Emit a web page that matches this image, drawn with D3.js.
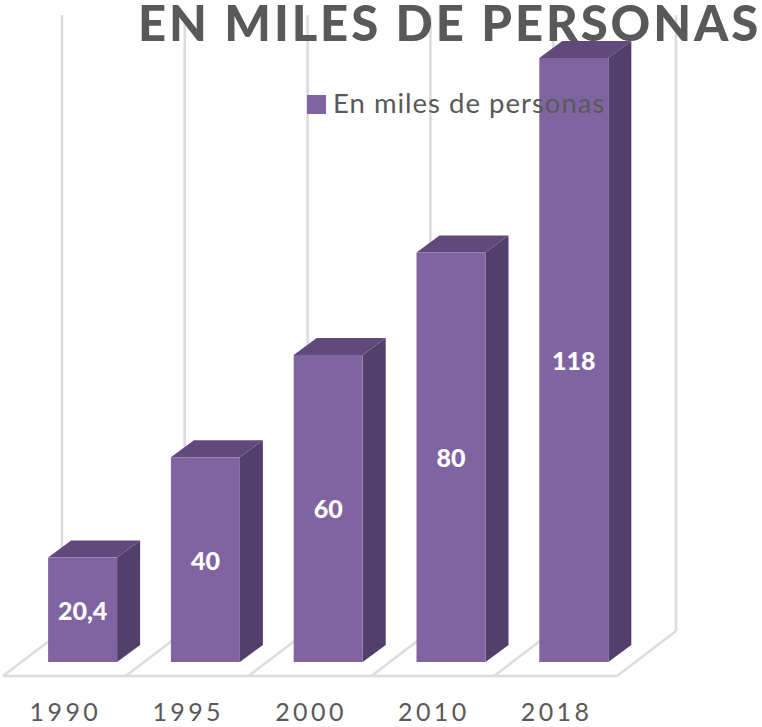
<!DOCTYPE html>
<html><head><meta charset="utf-8">
<script src="https://cdn.jsdelivr.net/npm/d3@7/dist/d3.min.js"></script>
<style>html,body{margin:0;padding:0;background:#fff}svg{display:block}text{font-family:Lato,"Open Sans",sans-serif}</style>
</head><body><svg id="c" width="762" height="727"></svg>
<script>
const categories = ["1990","1995","2000","2010","2018"];
const values = [20.4,40,60,80,118];
const valueLabels = ["20,4","40","60","80","118"];
const seriesName = "En miles de personas";
const titleText = "EN MILES DE PERSONAS";

const depthX=60, depthY=45;      // floor depth
const barDX=23, barDY=17;        // bar depth
const svg=d3.select("#c");
const x=d3.scaleBand().domain(categories).range([3,617]).padding(0);
const y=d3.scaleLinear().domain([0,118]).range([662,58]);
const barW=69, barOff=x.step()/2+18.2-barW/2;
const gridColor="#dcdcdc", frontColor="#8064a2", topColor="#5f4a7b", sideColor="#523f6b";

// wall and floor
const edges=[...categories.map(c=>x(c)),617];
const g=svg.append("g").attr("fill","none").attr("stroke",gridColor).attr("stroke-width",2.6);
edges.forEach(e=>{
  g.append("line").attr("x1",e).attr("y1",676).attr("x2",e+depthX-1).attr("y2",676-depthY);
  g.append("line").attr("x1",e+depthX-1).attr("y1",676-depthY).attr("x2",e+depthX-1).attr("y2",15);
});
g.append("line").attr("x1",3).attr("y1",676).attr("x2",617).attr("y2",676);

// bars
const b=svg.append("g").selectAll("g").data(categories).join("g");
const bx=c=>x(c)+barOff;
const val=i=>y(values[i]);
b.append("path").attr("fill",sideColor).attr("d",(c,i)=>{
  const l=bx(c)+barW;
  return `M${l},${val(i)}l${barDX},${-barDY}V${y(0)-barDY}l${-barDX},${barDY}Z`;
});
b.append("path").attr("fill",topColor).attr("d",(c,i)=>{
  const l=bx(c);
  return `M${l},${val(i)}l${barDX},${-barDY}h${barW}l${-barDX},${barDY}Z`;
});
b.append("rect").attr("fill",frontColor).attr("x",bx).attr("width",barW)
  .attr("y",(c,i)=>val(i)).attr("height",(c,i)=>y(0)-val(i));
b.append("text").attr("x",c=>bx(c)+barW/2).attr("y",(c,i)=>(val(i)+y(0))/2+10)
  .attr("text-anchor","middle").attr("fill","#fff").attr("font-weight",900).attr("font-size",25)
  .text((c,i)=>valueLabels[i]);

// category axis
const axis=svg.append("g").attr("transform","translate(1,711)")
  .call(d3.axisBottom(x).tickSize(0).tickPadding(0));
axis.select(".domain").remove();
axis.selectAll("text").attr("y",0).attr("dy","10").attr("fill","#595959")
  .style("font-family","Lato,sans-serif").style("font-size","25px").style("letter-spacing","3.4px");

// title
svg.append("text").attr("x",138).attr("y",41)
  .attr("fill","#595959").attr("font-weight",900).attr("font-size",49).style("letter-spacing","2.9px").text(titleText);

// legend
svg.append("rect").attr("x",307).attr("y",95).attr("width",19).attr("height",19).attr("fill",frontColor);
svg.append("text").attr("x",333).attr("y",113).attr("fill","#595959").attr("font-size",27.5).style("letter-spacing","1px").text(seriesName);
</script></body></html>
